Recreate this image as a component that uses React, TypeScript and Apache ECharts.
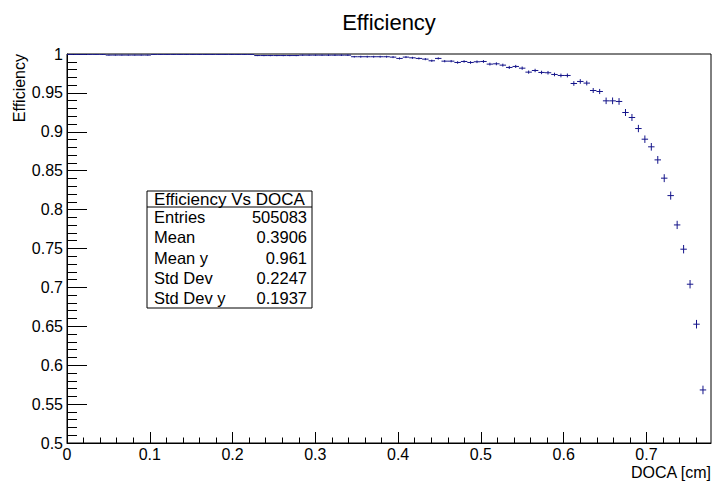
import React, { useEffect, useRef } from 'react';
import * as echarts from 'echarts';

const BIN_WIDTH = 0.0078;
const X_MAX = 0.778;

// efficiency per DOCA bin (bin i centered at (i + 0.5) * BIN_WIDTH)
const efficiency = [
  0.9995, 0.9995, 0.9995, 0.9995, 0.9995, 0.9995, 0.9986, 0.9986, 0.9986, 0.9986,
  0.9986, 0.9986, 0.9986, 0.9995, 0.9995, 0.9995, 0.9995, 0.9995, 0.9995, 0.9995,
  0.9995, 0.9995, 0.9995, 0.9995, 0.9995, 0.9995, 0.9995, 0.9995, 0.9995, 0.998,
  0.998, 0.998, 0.998, 0.998, 0.998, 0.998, 0.9985, 0.9985, 0.9985, 0.9985,
  0.9985, 0.9985, 0.9985, 0.9985, 0.9965, 0.9965, 0.9965, 0.9965, 0.9965, 0.9965,
  0.996, 0.9943, 0.996, 0.9951, 0.9943, 0.9934, 0.9913, 0.9943, 0.9908, 0.9908,
  0.9891, 0.9904, 0.9891, 0.99, 0.9904, 0.987, 0.9874, 0.9857, 0.9827, 0.984,
  0.9818, 0.9767, 0.9788, 0.9763, 0.9759, 0.9737, 0.9724, 0.9724, 0.9621, 0.9647,
  0.9626, 0.9531, 0.9518, 0.9398, 0.9398, 0.939, 0.9248, 0.9184, 0.9042, 0.8905,
  0.8807, 0.8639, 0.8404, 0.818, 0.7803, 0.7491, 0.7041, 0.6527, 0.5682,
];

// half-height of the vertical error bar of each bin
const errors = [
  0.0006, 0.0006, 0.0006, 0.0006, 0.0006, 0.0006, 0.0006, 0.0006, 0.0006, 0.0006,
  0.0006, 0.0006, 0.0006, 0.0006, 0.0006, 0.0006, 0.0006, 0.0006, 0.0006, 0.0006,
  0.0007, 0.0007, 0.0007, 0.0007, 0.0007, 0.0007, 0.0007, 0.0007, 0.0007, 0.0007,
  0.0008, 0.0008, 0.0008, 0.0008, 0.0008, 0.0008, 0.0008, 0.0008, 0.0008, 0.0008,
  0.001, 0.001, 0.001, 0.001, 0.001, 0.0012, 0.0012, 0.0012, 0.0012, 0.0012,
  0.0013, 0.0013, 0.0013, 0.0013, 0.0013, 0.0014, 0.0014, 0.0014, 0.0015, 0.0015,
  0.0016, 0.0016, 0.0017, 0.0017, 0.0018, 0.0018, 0.0019, 0.0019, 0.002, 0.002,
  0.0021, 0.0021, 0.0022, 0.0022, 0.0023, 0.0023, 0.0024, 0.0025, 0.003, 0.003,
  0.003, 0.0032, 0.0033, 0.0042, 0.0043, 0.0043, 0.0045, 0.0045, 0.0047, 0.0048,
  0.0049, 0.005, 0.0051, 0.0052, 0.0053, 0.0054, 0.0054, 0.0055, 0.0055,
];

const xMajorTicks = [0, 0.1, 0.2, 0.3, 0.4, 0.5, 0.6, 0.7];
const xMinorTicks = [
  0.02, 0.04, 0.06, 0.08, 0.12, 0.14, 0.16, 0.18, 0.22, 0.24, 0.26, 0.28,
  0.32, 0.34, 0.36, 0.38, 0.42, 0.44, 0.46, 0.48, 0.52, 0.54, 0.56, 0.58,
  0.62, 0.64, 0.66, 0.68, 0.72, 0.74, 0.76,
];

const chartTitle = 'Efficiency';
const xTitle = 'DOCA [cm]';
const yTitle = 'Efficiency';
const statsTitle = 'Efficiency Vs DOCA';
const statsLabels = ['Entries', 'Mean', 'Mean y', 'Std Dev', 'Std Dev y'];
const statsValues = ['505083', '0.3906', '0.961', '0.2247', '0.1937'];

const MARK_COLOR = '#14148a';
const FONT = '"Liberation Sans", Arial, Helvetica, sans-serif';

export default function App() {
  const ref = useRef<HTMLDivElement>(null);

  useEffect(() => {
    document.body.style.margin = '0';
    if (!ref.current) return;
    const chart = echarts.init(ref.current, null, { renderer: 'svg' });

    const data = efficiency.map((v, i) => [(i + 0.5) * BIN_WIDTH, v, errors[i]]);

    const box = { x: 147, y: 191, w: 165, h: 117 };
    const headerBottom = 207;
    const rowStep = (box.y + box.h - headerBottom) / statsLabels.length;
    const rowY0 = headerBottom + rowStep / 2;
    const statsGraphics: any[] = [
      {
        type: 'rect',
        shape: { x: box.x, y: box.y, width: box.w, height: box.h },
        style: { fill: '#fff', stroke: '#000', lineWidth: 1 },
        z: 100,
      },
      {
        type: 'line',
        shape: { x1: box.x, y1: headerBottom, x2: box.x + box.w, y2: headerBottom },
        style: { stroke: '#000', lineWidth: 1 },
        z: 101,
      },
      {
        type: 'text',
        x: box.x + box.w / 2,
        y: (box.y + headerBottom) / 2 + 0.5,
        style: {
          text: statsTitle, font: `17px ${FONT}`, fill: '#000',
          textAlign: 'center', textVerticalAlign: 'middle',
        },
        z: 101,
      },
    ];
    statsLabels.forEach((lab, i) => {
      statsGraphics.push({
        type: 'text', x: box.x + 7, y: rowY0 + i * rowStep,
        style: { text: lab, font: `16.5px ${FONT}`, fill: '#000', textAlign: 'left', textVerticalAlign: 'middle' },
        z: 101,
      });
      statsGraphics.push({
        type: 'text', x: box.x + box.w - 5, y: rowY0 + i * rowStep,
        style: { text: statsValues[i], font: `16.5px ${FONT}`, fill: '#000', textAlign: 'right', textVerticalAlign: 'middle' },
        z: 101,
      });
    });

    chart.setOption({
      animation: false,
      backgroundColor: '#fff',
      grid: { left: 67, right: 3, top: 54, bottom: 39, show: true, borderColor: '#000', borderWidth: 1, backgroundColor: 'transparent' },
      xAxis: [
        {
          type: 'value', min: 0, max: X_MAX, gridIndex: 0, position: 'bottom',
          axisLine: { show: true, onZero: false, lineStyle: { color: '#000', width: 1 } },
          axisTick: { show: true, inside: true, length: 11, customValues: xMajorTicks, lineStyle: { color: '#000' } },
          axisLabel: {
            show: true, customValues: xMajorTicks, margin: 3, color: '#000',
            fontSize: 16, fontFamily: FONT, formatter: (v: number) => String(Math.round(v * 10) / 10),
          },
          splitLine: { show: false },
        },
        {
          type: 'value', min: 0, max: X_MAX, gridIndex: 0, position: 'bottom',
          axisLine: { show: false },
          axisTick: { show: true, inside: true, length: 5.5, customValues: xMinorTicks, lineStyle: { color: '#000' } },
          axisLabel: { show: false },
          splitLine: { show: false },
        },
      ],
      yAxis: {
        type: 'value', min: 0.5, max: 1, interval: 0.05,
        axisLine: { show: true, onZero: false, lineStyle: { color: '#000', width: 1 } },
        axisTick: { show: true, inside: true, length: 20, lineStyle: { color: '#000' } },
        minorTick: { show: true, splitNumber: 5, length: 10, lineStyle: { color: '#000' } },
        axisLabel: {
          margin: 4, color: '#000', fontSize: 16, fontFamily: FONT,
          formatter: (v: number) => String(Math.round(v * 100) / 100),
        },
        splitLine: { show: false },
      },
      series: [
        {
          type: 'custom',
          xAxisIndex: 0,
          yAxisIndex: 0,
          clip: true,
          data,
          renderItem: (params: any, api: any) => {
            const x = api.value(0);
            const y = api.value(1);
            const e = api.value(2);
            const pL = api.coord([x - BIN_WIDTH / 2, y]);
            const pR = api.coord([x + BIN_WIDTH / 2, y]);
            const pT = api.coord([x, y + e]);
            const pB = api.coord([x, y - e]);
            return {
              type: 'group',
              children: [
                { type: 'line', shape: { x1: pL[0], y1: pL[1], x2: pR[0], y2: pR[1] }, style: { stroke: MARK_COLOR, lineWidth: 1 } },
                { type: 'line', shape: { x1: pT[0], y1: pT[1], x2: pB[0], y2: pB[1] }, style: { stroke: MARK_COLOR, lineWidth: 1 } },
              ],
            };
          },
        },
      ],
      graphic: [
        {
          type: 'text', x: 389, y: 22,
          style: { text: chartTitle, font: `22px ${FONT}`, fill: '#000', textAlign: 'center', textVerticalAlign: 'middle' },
        },
        {
          type: 'text', x: 711, y: 472,
          style: { text: xTitle, font: `16px ${FONT}`, fill: '#000', textAlign: 'right', textVerticalAlign: 'middle' },
        },
        {
          type: 'text', x: 19, y: 54, rotation: Math.PI / 2,
          style: { text: yTitle, font: `16px ${FONT}`, fill: '#000', textAlign: 'right', textVerticalAlign: 'middle' },
        },
        ...statsGraphics,
      ],
    });

    return () => chart.dispose();
  }, []);

  return <div ref={ref} style={{ width: 714, height: 482 }} />;
}
